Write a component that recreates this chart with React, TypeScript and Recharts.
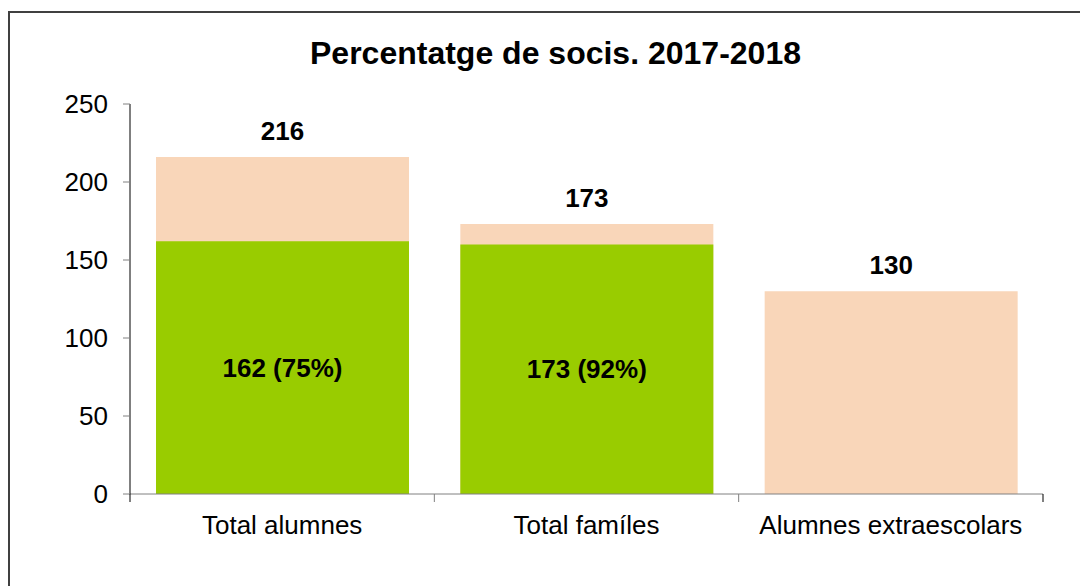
import { BarChart, Bar, XAxis, YAxis, LabelList } from "recharts";

const categories = ["Total alumnes", "Total famíles", "Alumnes extraescolars"];
const totals = [216, 173, 130];
const socis = [162, 160, null];
const sociLabels = ["162 (75%)", "173 (92%)", ""];
const yTicks = [0, 50, 100, 150, 200, 250];

const data = categories.map((name, i) => ({
  name,
  total: totals[i],
  socis: socis[i],
  sociLabel: sociLabels[i],
}));

const FONT = '"Liberation Sans", Arial, sans-serif';

function XTick(props: any) {
  const { x, y, payload, index, visibleTicksCount } = props;
  const half = payload.offset ?? 152;
  return (
    <g>
      <line x1={x - half} x2={x - half} y1={y - 8} y2={y} stroke={index === 0 ? "#000" : "#808080"} />
      {index === visibleTicksCount - 1 && (
        <line x1={x + half} x2={x + half} y1={y - 8} y2={y} stroke="#000" />
      )}
      <text x={x} y={y} dy={32} textAnchor="middle" fontSize={26} fill="#000" fontFamily={FONT}>
        {payload.value}
      </text>
    </g>
  );
}

export default function App() {
  return (
    <div style={{ position: "relative", width: 1080, height: 578, overflow: "hidden", fontFamily: FONT }}>
      <div
        style={{
          position: "absolute",
          left: 0,
          top: 3,
          right: -10,
          bottom: -10,
          borderLeft: "2px solid #404040",
          borderTop: "2px solid #404040",
        }}
      />
      <div
        style={{
          position: "absolute",
          left: 547.5,
          top: 28.5,
          transform: "translateX(-50%)",
          whiteSpace: "nowrap",
          fontSize: 32,
          lineHeight: "32px",
          fontWeight: "bold",
          color: "#000",
        }}
      >
        Percentatge de socis. 2017-2018
      </div>
      <BarChart
        width={1080}
        height={578}
        data={data}
        margin={{ top: 96, right: 45, left: 62, bottom: 32 }}
        barSize={253}
        barGap={-253}
        style={{ position: "absolute", left: 0, top: 0 }}
      >
        <XAxis
          dataKey="name"
          height={60}
          tickLine={false}
          tickSize={8}
          tickMargin={0}
          axisLine={{ stroke: "#808080" }}
          tick={<XTick />}
          interval={0}
        />
        <YAxis
          width={60}
          domain={[0, 250]}
          ticks={yTicks}
          tickSize={7}
          tickMargin={15}
          axisLine={{ stroke: "#000" }}
          tickLine={{ stroke: "#808080" }}
          tick={{ fill: "#000", fontSize: 26, fontFamily: FONT }}
        />
        <Bar dataKey="total" fill="#F9D6B9" isAnimationActive={false}>
          <LabelList
            dataKey="total"
            position="top"
            offset={17}
            fill="#000"
            fontSize={26}
            fontWeight="bold"
            fontFamily={FONT}
          />
        </Bar>
        <Bar dataKey="socis" fill="#99CC00" isAnimationActive={false}>
          <LabelList
            dataKey="sociLabel"
            position="center"
            fill="#000"
            fontSize={26}
            fontWeight="bold"
            fontFamily={FONT}
          />
        </Bar>
      </BarChart>
    </div>
  );
}
